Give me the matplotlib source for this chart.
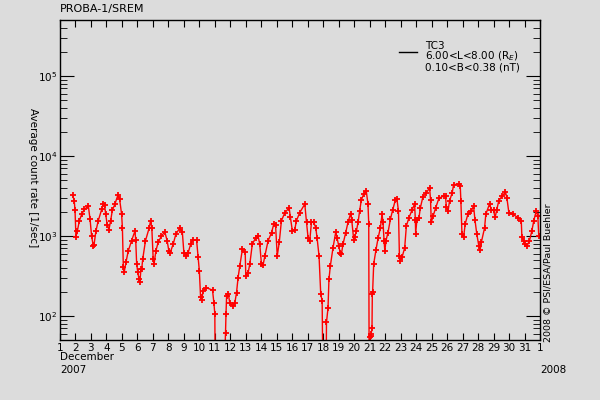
import matplotlib
matplotlib.use('Agg')
import matplotlib.pyplot as plt
import matplotlib.ticker as mticker
import numpy as np

# time in days of December 2007 (1.0 = Dec 1 00:00), rate in counts/sec
day = [1.82, 1.92, 1.97, 2.03, 2.12, 2.25, 2.40, 2.57, 2.83, 2.94,
       3.04, 3.15, 3.20, 3.32, 3.47, 3.69, 3.80, 3.88, 3.95, 4.05,
       4.16, 4.27, 4.38, 4.55, 4.74, 4.85, 4.98, 5.03, 5.09, 5.15,
       5.26, 5.41, 5.62, 5.84, 5.89, 5.95, 6.02, 6.10, 6.16, 6.23,
       6.28, 6.34, 6.52, 6.76, 6.85, 6.93, 7.02, 7.08, 7.19, 7.34,
       7.55, 7.77, 7.92, 8.03, 8.12, 8.31, 8.48, 8.74, 8.90, 9.00,
       9.13, 9.28, 9.44, 9.56, 9.82, 9.92, 10.00, 10.08, 10.14, 10.25,
       10.46, 10.85, 10.94, 11.00, 11.03, 11.56, 11.69, 11.72, 11.76, 11.87,
       11.97, 12.18, 12.29, 12.40, 12.50, 12.61, 12.78, 12.96, 13.00, 13.15,
       13.26, 13.42, 13.65, 13.79, 13.90, 14.01, 14.12, 14.23, 14.44, 14.66,
       14.81, 14.92, 15.03, 15.16, 15.30, 15.52, 15.80, 15.88, 16.01, 16.16,
       16.27, 16.48, 16.81, 16.92, 17.02, 17.13, 17.24, 17.39, 17.52, 17.60,
       17.73, 17.84, 17.93, 17.99, 18.18, 18.21, 18.31, 18.37, 18.46, 18.63,
       18.81, 18.89, 19.00, 19.10, 19.17, 19.28, 19.45, 19.60, 19.77, 19.84,
       19.97, 20.03, 20.14, 20.25, 20.35, 20.46, 20.61, 20.78, 20.89, 20.94,
       20.97, 21.00, 21.06, 21.10, 21.15, 21.17, 21.19, 21.26, 21.41, 21.54,
       21.69, 21.80, 21.86, 21.93, 21.98, 22.05, 22.18, 22.34, 22.48, 22.66,
       22.76, 22.86, 22.92, 22.98, 23.10, 23.26, 23.37, 23.54, 23.75, 23.90,
       23.95, 23.97, 24.05, 24.18, 24.27, 24.44, 24.66, 24.87, 24.93, 24.98,
       25.10, 25.26, 25.47, 25.77, 25.90, 25.95, 26.06, 26.16, 26.33, 26.42,
       26.76, 26.85, 26.89, 26.96, 27.07, 27.17, 27.34, 27.56, 27.71, 27.80,
       27.92, 28.05, 28.14, 28.21, 28.42, 28.50, 28.74, 28.85, 29.00, 29.10,
       29.21, 29.34, 29.56, 29.77, 29.86, 29.99, 30.25, 30.57, 30.79, 30.83,
       30.95, 31.06, 31.16, 31.32, 31.47, 31.60, 31.75, 31.86, 31.92]

rate = [3240, 2750, 2090, 980, 1150, 1550, 1860, 2140, 2370, 1620,
        1000, 750, 780, 1150, 1550, 2140, 2510, 2450, 1860, 1380,
        1200, 1550, 2090, 2510, 3240, 2880, 1860, 1260, 410, 355,
        470, 650, 870, 1150, 890, 450, 355, 290, 265, 390,
        390, 510, 870, 1260, 1550, 1260, 510, 450, 650, 830,
        1000, 1120, 870, 650, 620, 790, 1050, 1260, 1120, 620,
        560, 620, 790, 890, 890, 540, 365, 170, 158, 205,
        225, 210, 145, 105, 10, 10, 62, 105, 178, 186,
        145, 133, 145, 195, 300, 420, 680, 630, 316, 347,
        447, 790, 955, 1000, 790, 447, 437, 562, 870, 1096,
        1413, 1380, 562, 830, 1550, 1950, 2240, 1700, 1150, 1200,
        1550, 1950, 2500, 1480, 955, 870, 1480, 1480, 1260, 955,
        562, 186, 155, 10, 10, 83, 126, 288, 422, 708,
        1122, 955, 750, 617, 589, 794, 1096, 1479, 1905, 1585,
        891, 977, 1148, 1479, 2042, 2818, 3311, 3631, 2512, 1413,
        10, 54, 56, 60, 71, 186, 200, 447, 676, 933,
        1259, 1862, 1479, 871, 646, 871, 1096, 1622, 2089, 2818,
        2884, 2042, 562, 490, 550, 708, 1334, 1698, 2138, 2512,
        1585, 1072, 1585, 1660, 2239, 3090, 3467, 3981, 2818, 1479,
        1778, 2239, 2951, 3162, 3162, 2291, 2042, 2754, 3467, 4365,
        4467, 4200, 2754, 1047, 977, 1413, 1862, 2042, 2371, 1585,
        1047, 750, 676, 832, 1259, 1862, 2512, 2138, 2089, 1700,
        2138, 2754, 3162, 3548, 3000, 1950, 1862, 1698, 1549, 977,
        871, 794, 750, 871, 1148, 1549, 2042, 1778, 1000]

tick_days = list(range(1, 33))
tick_labels = [str(d) for d in range(1, 32)] + ['1']

bg = '#dcdcdc'
plt.rcParams['font.family'] = 'DejaVu Sans'
plt.rcParams['font.size'] = 7.5

fig = plt.figure(figsize=(6, 4), dpi=100, facecolor=bg)
ax = fig.add_axes([0.1, 0.15, 0.8, 0.8], facecolor=bg)

ax.plot(day, rate, color='red', lw=1, marker='+', ms=4, mew=1.3)

ax.set_yscale('log')
ax.set_ylim(50, 5e5)
ax.set_xlim(1, 32)
ax.set_xticks(tick_days)
ax.set_xticklabels(tick_labels, fontsize=7.5)
ax.yaxis.set_major_locator(mticker.LogLocator(base=10))
ax.yaxis.set_minor_locator(mticker.LogLocator(base=10, subs=np.arange(2, 10)))
ax.yaxis.set_minor_formatter(mticker.NullFormatter())

ax.tick_params(which='both', direction='in', top=True, right=True, color='black')
ax.tick_params(axis='x', which='major', length=5, pad=2)
ax.tick_params(axis='y', which='major', length=10, pad=2, labelsize=7.5)
ax.tick_params(axis='y', which='minor', length=5)
for s in ax.spines.values():
    s.set_linewidth(1)

fig.text(0.055, 0.555, 'Average count rate [1/sec]', rotation=270,
         ha='center', va='center')

fig.text(0.1, 0.965, 'PROBA-1/SREM', fontsize=8, ha='left', va='bottom')

# legend
ax.plot([0.706, 0.744], [0.901, 0.901], transform=ax.transAxes, color='black', lw=1)
fig.text(0.708, 0.858, 'TC3\n6.00<L<8.00 (R$_E$)\n0.10<B<0.38 (nT)',
         fontsize=7.5, ha='left', va='center', linespacing=0.85)

fig.text(0.1, 0.1075, 'December', ha='left', va='center')
fig.text(0.1, 0.075, '2007', ha='left', va='center')
fig.text(0.922, 0.075, '2008', ha='center', va='center')
fig.text(0.913, 0.318, '2008 \u00a9 PSI/ESA/Paul Buehler', rotation=90,
         ha='center', va='center', fontsize=6.8)

fig.savefig('out.png', dpi=100, facecolor=bg)
